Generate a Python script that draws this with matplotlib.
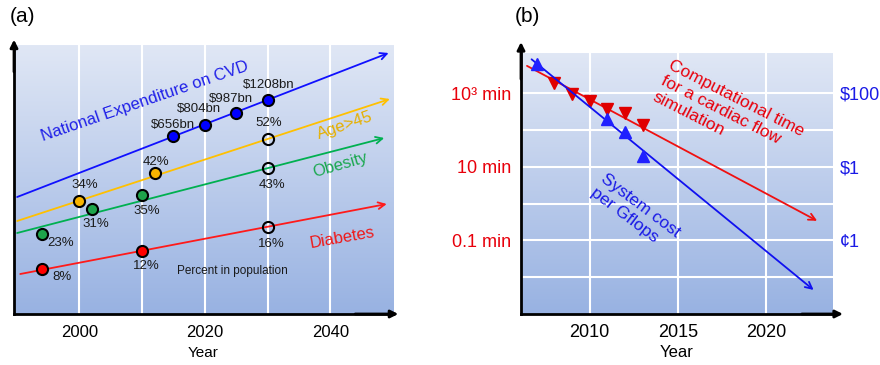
import matplotlib
matplotlib.use('Agg')
import matplotlib.pyplot as plt
import numpy as np

plt.rcParams['font.family'] = ['Liberation Sans', 'DejaVu Sans']

# ---- panel (a): trends, y in arbitrary chart units ----
cvd_years = [2015, 2020, 2025, 2030]
cvd_y = [178, 189, 201, 214]
cvd_labels = ['$656bn', '$804bn', '$987bn', '$1208bn']
cvd_trend = [(1990.1, 117), (2049.3, 261)]

age_years = [2000, 2012, 2030]
age_y = [113, 141, 175]
age_labels = ['34%', '42%', '52%']
age_trend = [(1990.1, 93), (2049.5, 215)]

ob_years = [1994, 2002, 2010, 2030]
ob_y = [80, 105, 119, 146]
ob_labels = ['23%', '31%', '35%', '43%']
ob_trend = [(1990.1, 81), (2048.6, 176)]

db_years = [1994, 2010, 2030]
db_y = [45, 63, 87]
db_labels = ['8%', '12%', '16%']
db_trend = [(1990.6, 40), (2049.0, 110)]

# ---- panel (b): computation time (min) and cost per Gflops ($) ----
sim_years = [2008, 2009, 2010, 2011, 2012, 2013]
sim_minutes = [1900, 920, 600, 360, 290, 140]
sim_trend = [(2006.44, 5500), (2022.9, 0.34)]

cost_years = [2007, 2011, 2012, 2013]
cost_dollars = [615, 19.5, 8.7, 1.95]
cost_trend = [(2006.7, 830), (2022.7, 4.5e-4)]

min_ticks = [1e3, 10, 0.1]
min_ticklabels = ['10³ min', '10 min', '0.1 min']
dollar_ticks = [100, 1, 0.01]
dollar_ticklabels = ['$100', '$1', '¢1']

fig = plt.figure(figsize=(8.8, 3.65), dpi=100)


def gradient(ax):
    top = np.array([224, 231, 245]) / 255
    bot = np.array([152, 178, 226]) / 255
    t = np.linspace(0, 1, 256)[:, None]
    img = top[None, :] * (1 - t) + bot[None, :] * t
    ax.imshow(img[:, None, :].repeat(2, axis=1), extent=[0, 1, 0, 1],
              transform=ax.transAxes, aspect='auto', zorder=0)


def frame(ax, ytip, xtip):
    for s in ['top', 'right']:
        ax.spines[s].set_visible(False)
    for s in ['left', 'bottom']:
        ax.spines[s].set_linewidth(2)
        ax.spines[s].set_zorder(5)
    ax.annotate('', xy=(0, 1 + ytip), xytext=(0, 0.9), xycoords='axes fraction',
                arrowprops=dict(arrowstyle='-|>', color='k', lw=2, mutation_scale=11,
                                shrinkA=0, shrinkB=0), annotation_clip=False)
    ax.annotate('', xy=(1 + xtip, 0), xytext=(0.9, 0), xycoords='axes fraction',
                arrowprops=dict(arrowstyle='-|>', color='k', lw=2, mutation_scale=11,
                                shrinkA=0, shrinkB=0), annotation_clip=False)
    ax.tick_params(length=0)
    ax.set_axisbelow(True)
    ax.grid(color='white', lw=1.5)


def trend(ax, pts, color):
    ax.annotate('', xy=pts[1], xytext=pts[0],
                arrowprops=dict(arrowstyle='->', color=color, lw=1.3, mutation_scale=12,
                                shrinkA=0, shrinkB=0), zorder=3)


# ================= (a) =================
axa = fig.add_axes([14 / 880, 1 - 314 / 365, 379 / 880, 269 / 365])
gradient(axa)
axa.set_xlim(1989.6, 2050)
axa.set_ylim(0, 269)
frame(axa, 0.02, 0.014)
axa.set_yticks([])
axa.set_xticks([2000, 2010, 2020, 2030, 2040])
axa.set_xticklabels(['2000', '', '2020', '', '2040'], fontsize=12)
axa.tick_params(axis='x', pad=8)
axa.yaxis.grid(False)
axa.set_xlabel('Year', fontsize=11, labelpad=4)

series = [
    (cvd_years, cvd_y, cvd_labels, cvd_trend, '#1010ff', '#0000ff', [0, 0, 0, 0],
     [(0, 8), (-4, 11.5), (-4, 10.4), (1, 10.8)]),
    (age_years, age_y, age_labels, age_trend, '#ffc000', '#f8b400', [0, 0, 1],
     [(4.3, 11.3), (0.7, 8), (1.2, 11.5)]),
    (ob_years, ob_y, ob_labels, ob_trend, '#00b050', '#1ea44b', [0, 0, 0, 1],
     [(13.7, -6.5), (2.9, -10.8), (3.6, -11.5), (2.9, -12)]),
    (db_years, db_y, db_labels, db_trend, '#ff1a1a', '#ff0000', [0, 0, 1],
     [(14.4, -5.8), (2.9, -10.8), (2.9, -12.2)]),
]
for yrs, ys, labs, tr, lc, mc, hollow, offs in series:
    trend(axa, tr, lc)
    for x, y, lab, h, off in zip(yrs, ys, labs, hollow, offs):
        axa.plot(x, y, 'o', ms=8, mfc='none' if h else mc, mec='k', mew=1.5, zorder=4)
        axa.annotate(lab, (x, y), xytext=off, textcoords='offset points',
                     ha='center', va='center', fontsize=9.5, color='#1a1a1a', zorder=6)

axa.text(2010.5, 213, 'National Expenditure on CVD', color='#1f1fe8', fontsize=12,
         rotation=19, ha='center', va='center', rotation_mode='anchor')
axa.text(2042.4, 189, 'Age>45', color='#e6b000', fontsize=12,
         rotation=19, ha='center', va='center', rotation_mode='anchor')
axa.text(2041.6, 149, 'Obesity', color='#1aa84f', fontsize=12,
         rotation=16, ha='center', va='center', rotation_mode='anchor')
axa.text(2041.9, 76, 'Diabetes', color='#f01818', fontsize=12,
         rotation=10, ha='center', va='center', rotation_mode='anchor')
axa.text(2024.4, 43, 'Percent in population', color='#1a1a1a', fontsize=8.5,
         ha='center', va='center')

# ================= (b) =================
axb = fig.add_axes([521 / 880, 1 - 314 / 365, 312 / 880, 261 / 365])
gradient(axb)
axb.set_yscale('log')
axb.set_xlim(2006.1, 2023.8)
axb.set_ylim(1e-3, 10 ** 4.09)
frame(axb, 0.042, 0.032)
axb.set_xticks([2010, 2015, 2020])
axb.set_xticklabels(['2010', '2015', '2020'], fontsize=13)
axb.tick_params(axis='x', pad=7)
axb.set_yticks([1e3, 1e2, 10, 1, 0.1, 0.01])
axb.yaxis.set_minor_locator(matplotlib.ticker.NullLocator())
axb.set_yticklabels([min_ticklabels[min_ticks.index(v)] if v in min_ticks else ''
                     for v in [1e3, 1e2, 10, 1, 0.1, 0.01]], fontsize=13, color='#e8000b')
axb.tick_params(axis='y', pad=7)
axb.set_xlabel('Year', fontsize=12, labelpad=3)

trend(axb, sim_trend, '#f01010')
axb.plot(sim_years, sim_minutes, 'v', color='#e00000', ms=8, ls='none', zorder=4)

ax2 = axb.twinx()
ax2.set_yscale('log')
ax2.set_ylim(1e-3 / 10, 10 ** 4.09 / 10)
for s in ax2.spines.values():
    s.set_visible(False)
ax2.set_yticks(dollar_ticks)
ax2.yaxis.set_minor_locator(matplotlib.ticker.NullLocator())
ax2.set_yticklabels(dollar_ticklabels, fontsize=13, color='#1a1ae6')
ax2.tick_params(length=0, pad=5)
trend(ax2, cost_trend, '#1010f0')
ax2.plot(cost_years, cost_dollars, '^', color='#2020ff', ms=8, ls='none', zorder=4)

axb.text(2017.87, 270, 'Computational time\nfor a cardiac flow\nsimulation', color='#e8000b',
         fontsize=12.5, rotation=-27, ha='center', va='center', rotation_mode='anchor',
         multialignment='left', zorder=6)
axb.text(2012.6, 0.58, 'System cost\nper Gflops', color='#1a1ae6',
         fontsize=12.5, rotation=-37, ha='center', va='center', rotation_mode='anchor',
         multialignment='left', zorder=6)

fig.text(22 / 880, 1 - 17 / 365, '(a)', fontsize=15, ha='center', va='center')
fig.text(527 / 880, 1 - 17 / 365, '(b)', fontsize=15, ha='center', va='center')

fig.savefig('out.png', dpi=100)
